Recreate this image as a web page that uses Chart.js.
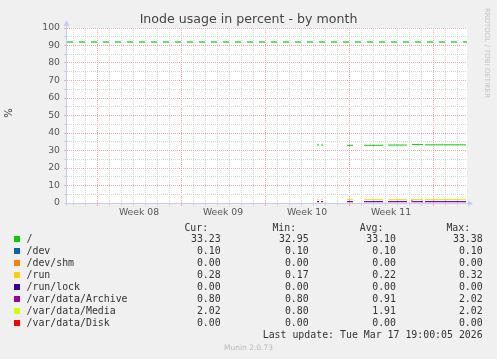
<!DOCTYPE html>
<html><head><meta charset="utf-8">
<script src="https://cdn.jsdelivr.net/npm/chart.js@4/dist/chart.umd.min.js"></script>
<style>
body{margin:0;background:#f0f0f0;width:497px;height:359px;overflow:hidden;position:relative;font-family:"DejaVu Sans",sans-serif;}
#c{position:absolute;left:0;top:0;}
.t{position:absolute;white-space:pre;}
.m{font-family:"DejaVu Sans Mono",monospace;font-size:9.9px;color:#333;line-height:12px;height:12px;}
.sw{position:absolute;width:6px;height:6px;}
</style></head><body>
<canvas id="c" width="497" height="359"></canvas>
<div class="t" style="left:0;width:497px;top:11px;text-align:center;font-size:12.6px;color:#444;">Inode usage in percent - by month</div>
<div class="t" style="left:4px;top:106px;width:12px;height:14px;font-size:10px;color:#444;transform:rotate(-90deg);text-align:center;">%</div>
<div class="t" style="left:437px;top:48px;width:100px;height:10px;line-height:10px;font-size:7px;color:#c4c4c4;transform:rotate(90deg);text-align:center;">RRDTOOL / TOBI OETIKER</div>
<div id="legend"></div>
<div class="t" style="left:0;width:497px;top:343px;text-align:center;font-size:7.5px;color:#b8b8b8;">Munin 2.0.73</div>
<script>
// ---- data (x = days since left edge of the month window) ----
const times      = [20.83, 21.0, 21.08, 21.17, 21.33, 22.5, 23.33, 23.83, 24.3, 24.75, 26.33, 26.5, 26.75, 28.33, 28.5, 28.75, 29.42, 29.67, 29.75, 29.83, 33.25];
const rootVals   = [33.2, 33.2, null, 33.1, 33.1, null, 32.95, 32.95, null, 33.0, 33.0, null, 33.1, 33.1, null, 33.38, 33.38, 33.38, null, 33.23, 33.23];
const devVals    = [0.10, 0.10, null, 0.10, 0.10, null, 0.10, 0.10, null, 0.10, 0.10, null, 0.10, 0.10, null, 0.10, 0.10, 0.10, null, 0.10, 0.10];
const shmVals    = [0, 0, null, 0, 0, null, 0, 0, null, 0, 0, null, 0, 0, null, 0, 0, 0, null, 0, 0];
const runVals    = [0.17, 0.17, null, 0.2, 0.2, null, 0.22, 0.22, null, 0.2, 0.2, null, 0.24, 0.24, null, 0.32, 0.32, 0.32, null, 0.28, 0.28];
const lockVals   = [0, 0, null, 0, 0, null, 0, 0, null, 0, 0, null, 0, 0, null, 0, 0, 0, null, 0, 0];
const archVals   = [0.80, 0.80, null, 0.80, 0.80, null, 0.80, 0.80, null, 0.80, 0.80, null, 0.80, 0.80, null, 2.02, 0.80, 0.80, null, 0.80, 0.80];
const mediaVals  = [2.02, 2.02, null, 2.02, 2.02, null, 2.02, 2.02, null, 2.02, 2.02, null, 2.02, 2.02, null, 0.80, 2.02, 2.02, null, 2.02, 2.02];
const diskVals   = [0, 0, null, 0, 0, null, 0, 0, null, 0, 0, null, 0, 0, null, 0, 0, 0, null, 0, 0];
const rootWarning = 92;

const seriesNames  = ["/", "/dev", "/dev/shm", "/run", "/run/lock", "/var/data/Archive", "/var/data/Media", "/var/data/Disk"];
const seriesColors = ["#00cc00", "#0066b3", "#ff8000", "#ffcc00", "#330099", "#990099", "#ccff00", "#ff0000"];
const seriesVals   = [rootVals, devVals, shmVals, runVals, lockVals, archVals, mediaVals, diskVals];
const curVals = ["33.23", "0.10", "0.00", "0.28", "0.00", "0.80", "2.02", "0.00"];
const minVals = ["32.95", "0.10", "0.00", "0.17", "0.00", "0.80", "0.80", "0.00"];
const avgVals = ["33.10", "0.10", "0.00", "0.22", "0.00", "0.91", "1.91", "0.00"];
const maxVals = ["33.38", "0.10", "0.00", "0.32", "0.00", "2.02", "2.02", "0.00"];
const lastUpdate = "Last update: Tue Mar 17 19:00:05 2026";

const xSpan = 33.33;
const weekLabels = ["Week 08", "Week 09", "Week 10", "Week 11"];
const weekCenters = [6, 13, 20, 27];
const weekStarts = [2.5, 9.5, 16.5, 23.5, 30.5];
const dayLines = [0.5,1.5,2.5,3.5,4.5,5.5,6.5,7.5,8.5,9.5,10.5,11.5,12.5,13.5,14.5,15.5,16.5,17.5,18.5,19.5,20.5,21.5,22.5,23.5,24.5,25.5,26.5,27.5,28.5,29.5,30.5,31.5,32.5];
const yTickVals = [0,5,10,15,20,25,30,35,40,45,50,55,60,65,70,75,80,85,90,95,100];

// ---- legend (HTML text) ----
const lg = document.getElementById('legend');
function put(text, left, top, align, width){
  const d = document.createElement('div');
  d.className = 't m';
  d.textContent = text;
  d.style.top = top + 'px';
  if (align === 'right'){ d.style.left = (left - width) + 'px'; d.style.width = width + 'px'; d.style.textAlign = 'right'; }
  else d.style.left = left + 'px';
  lg.appendChild(d);
}
const colRight = [220.7, 308.7, 396, 482.7];
const headers = ["Cur:", "Min:", "Avg:", "Max:"];
headers.forEach((h,i)=>put(h, colRight[i]-12.5, 222.3, 'right', 60));
seriesNames.forEach((n,i)=>{
  const cy = 239.3 + 12*i;
  const sw = document.createElement('div');
  sw.className = 'sw'; sw.style.left = '14px'; sw.style.top = (cy-3) + 'px'; sw.style.background = seriesColors[i];
  lg.appendChild(sw);
  put(n, 26.5, cy-6, 'left');
  [curVals, minVals, avgVals, maxVals].forEach((arr,j)=>put(arr[i], colRight[j], cy-6, 'right', 80));
});
put(lastUpdate, 482.7, 329, 'right', 300);

// ---- chart ----
const near = (a,b)=>Math.abs(a-b)<1e-6;
// lower order = drawn on top
const drawOrder = [0, 4, 7, 3, 6, 2, 1, 5];
const lineWidths = [1, 1, 1, 1, 1, 1.4, 1, 1];
// near-zero series sink into the axis row, as in RRDtool
const clipBottom = [5, -1, -1, -1, -1, 5, 5, -1];
const datasets = seriesNames.map((n,i)=>({
  label:n,
  data: times.map((t,k)=>({x:t, y:seriesVals[i][k]})),
  borderColor: seriesColors[i], backgroundColor: seriesColors[i],
  borderWidth: lineWidths[i], stepped:'after', spanGaps:false, pointRadius:0, order: drawOrder[i],
  clip: {left:5, right:5, top:5, bottom: clipBottom[i]}
}));
datasets.push({
  label:'warning', data:[{x:0,y:rootWarning},{x:xSpan,y:rootWarning}],
  borderColor:'#00cc00', borderWidth:1.2, borderDash:[6,6], pointRadius:0, order: 30
});

const axisPlugin = {
  id:'axes',
  beforeDraw(chart){
    const {ctx, chartArea:a} = chart;
    ctx.save(); ctx.fillStyle='#ffffff'; ctx.fillRect(a.left, a.top, a.right-a.left, a.bottom-a.top); ctx.restore();
  },
  afterDatasetsDraw(chart){
    const {ctx, chartArea:a} = chart;
    ctx.save();
    ctx.strokeStyle = '#c6ccf4'; ctx.fillStyle = '#c6ccf4'; ctx.lineWidth = 1;
    const ax = a.left - 0.5, ay = a.bottom + 0.5;
    ctx.beginPath(); ctx.moveTo(ax, a.bottom + 3); ctx.lineTo(ax, a.top - 5); ctx.stroke();
    ctx.beginPath(); ctx.moveTo(a.left - 3, ay); ctx.lineTo(a.right + 2, ay); ctx.stroke();
    ctx.beginPath(); ctx.moveTo(ax, a.top - 8); ctx.lineTo(ax - 3, a.top - 2); ctx.lineTo(ax + 3, a.top - 2); ctx.closePath(); ctx.fill();
    ctx.beginPath(); ctx.moveTo(a.right + 6, ay); ctx.lineTo(a.right + 1, ay - 3); ctx.lineTo(a.right + 1, ay + 3); ctx.closePath(); ctx.fill();
    ctx.restore();
  }
};

new Chart(document.getElementById('c'), {
  type:'line',
  data:{datasets},
  plugins:[axisPlugin],
  options:{
    responsive:false, animation:false, events:[],
    layout:{padding:{left:0, top:28, right:30, bottom:136}},
    plugins:{legend:{display:false}, tooltip:{enabled:false}, title:{display:false}},
    scales:{
      x:{
        type:'linear', min:0, max:xSpan,
        afterBuildTicks:s=>{ s.ticks = dayLines.concat(weekCenters).sort((a,b)=>a-b).map(v=>({value:v})); },
        afterFit:s=>{ s.height = 20; },
        ticks:{autoSkip:false, maxRotation:0, minRotation:0, padding:1, color:'#555', font:{family:'DejaVu Sans', size:9.3},
          callback:(v)=>{ const k = weekCenters.findIndex(c=>near(c,v)); return k>=0 ? weekLabels[k] : ''; }},
        grid:{
          lineWidth:1, tickLength:3,
          color:c=>{ const v=c.tick.value; if (weekCenters.some(w=>near(w,v))) return 'rgba(0,0,0,0)'; return weekStarts.some(w=>near(w,v)) ? '#f0a8a8' : '#d4d4d4'; },
          tickColor:c=>{ const v=c.tick.value; if (weekCenters.some(w=>near(w,v))) return 'rgba(0,0,0,0)'; return weekStarts.some(w=>near(w,v)) ? '#f0a8a8' : '#d4d4d4'; }
        },
        border:{display:false, dash:[1,1]}
      },
      y:{
        min:0, max:100,
        afterBuildTicks:s=>{ s.ticks = yTickVals.map(v=>({value:v})); },
        afterFit:s=>{ s.width = 67; },
        ticks:{autoSkip:false, padding:4, color:'#555', font:{family:'DejaVu Sans', size:9.3},
          callback:(v)=> (v % 10 === 0 ? String(v) : '')},
        grid:{
          lineWidth:1, tickLength:3,
          color:c=> (c.tick.value % 10 === 0 ? '#f0a8a8' : '#d4d4d4'),
          tickColor:c=> (c.tick.value % 10 === 0 ? '#f0a8a8' : '#d4d4d4')
        },
        border:{display:false, dash:[1,1]}
      }
    }
  }
});
</script>
</body></html>
